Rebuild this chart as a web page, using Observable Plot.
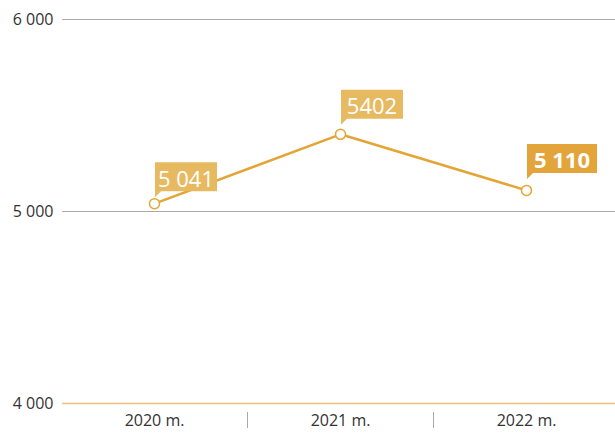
<!DOCTYPE html>
<html><head><meta charset="utf-8">
<script src="https://cdn.jsdelivr.net/npm/d3@7"></script>
<script src="https://cdn.jsdelivr.net/npm/@observablehq/plot@0.6"></script>
<style>body{margin:0;background:#fff;font-family:"Open Sans",sans-serif}</style>
</head><body><div id="chart"></div>
<script>
const years = ["2020 m.", "2021 m.", "2022 m."];
const values = [5041, 5402, 5110];
const valueLabels = ["5 041", "5402", "5 110"];
const highlight = [false, false, true];
const yTicks = [4000, 5000, 6000];
const yTickLabels = ["4 000", "5 000", "6 000"];

const data = years.map((y, i) => ({year: y, value: values[i], label: valueLabels[i], hi: highlight[i]}));

// callout styling (gap between box bottom and point, box width)
const calloutGap = [12, 15, 17];
const calloutWidth = [62, 62, 70];

const callouts = (index, scales, vals, dims) => {
  const g = d3.create("svg:g");
  const bw = scales.x.bandwidth ? scales.x.bandwidth() : 0;
  years.slice(0, -1).forEach(yr => {
    const sx = Math.round(scales.x(yr) + bw) + 0.5;
    g.append("line").attr("x1", sx).attr("x2", sx)
      .attr("y1", dims.height - dims.marginBottom + 9).attr("y2", dims.height - 5)
      .attr("stroke", "#aaa").attr("stroke-width", 1);
  });
  data.forEach((d, i) => {
    const px = scales.x(d.year) + bw / 2, py = scales.y(d.value);
    const w = calloutWidth[i], h = 29;
    const left = px + 1, bottom = py - calloutGap[i];
    const fill = d.hi ? "#E3A43A" : "#E7BA62";
    g.append("path")
      .attr("d", `M${left},${bottom - h}H${left + w}V${bottom}H${left + 6}L${left},${bottom + 6}Z`)
      .attr("fill", fill);
    g.append("text").attr("x", left + w / 2).attr("y", bottom - h / 2 + 1)
      .attr("text-anchor", "middle").attr("dominant-baseline", "central")
      .attr("fill", "#fff").attr("font-size", 22)
      .attr("font-weight", d.hi ? 700 : 400)
      .attr("font-family", "'Open Sans', sans-serif")
      .text(d.label);
  });
  return g.node();
};

const chart = Plot.plot({
  width: 615, height: 433,
  marginLeft: 62, marginRight: 0, marginTop: 19, marginBottom: 30,
  style: {fontFamily: "'Open Sans', sans-serif", fontSize: "16px", color: "#333", background: "#fff"},
  x: {type: "band", domain: years, range: [61, 619], padding: 0, label: null},
  y: {domain: [4000, 6000], label: null},
  marks: [
    Plot.ruleY(yTicks.filter(v => v !== 4000), {stroke: "#aaa", strokeWidth: 1}),
    Plot.ruleY([4000], {stroke: "#EAC27E", strokeWidth: 1.5}),
    Plot.axisY(yTicks, {tickSize: 0, tickPadding: 9, tickFormat: v => yTickLabels[yTicks.indexOf(v)], fill: "#333", fontSize: 16, label: null}),
    Plot.axisX({tickSize: 0, tickPadding: 11, fill: "#333", fontSize: 16, label: null}),
    Plot.line(data, {x: "year", y: "value", stroke: "#E3A535", strokeWidth: 2.5}),
    Plot.dot(data, {x: "year", y: "value", r: 5, fill: "#fff", stroke: "#E3A535", strokeWidth: 1.5}),
    callouts
  ]
});
document.getElementById("chart").appendChild(chart);
</script></body></html>
